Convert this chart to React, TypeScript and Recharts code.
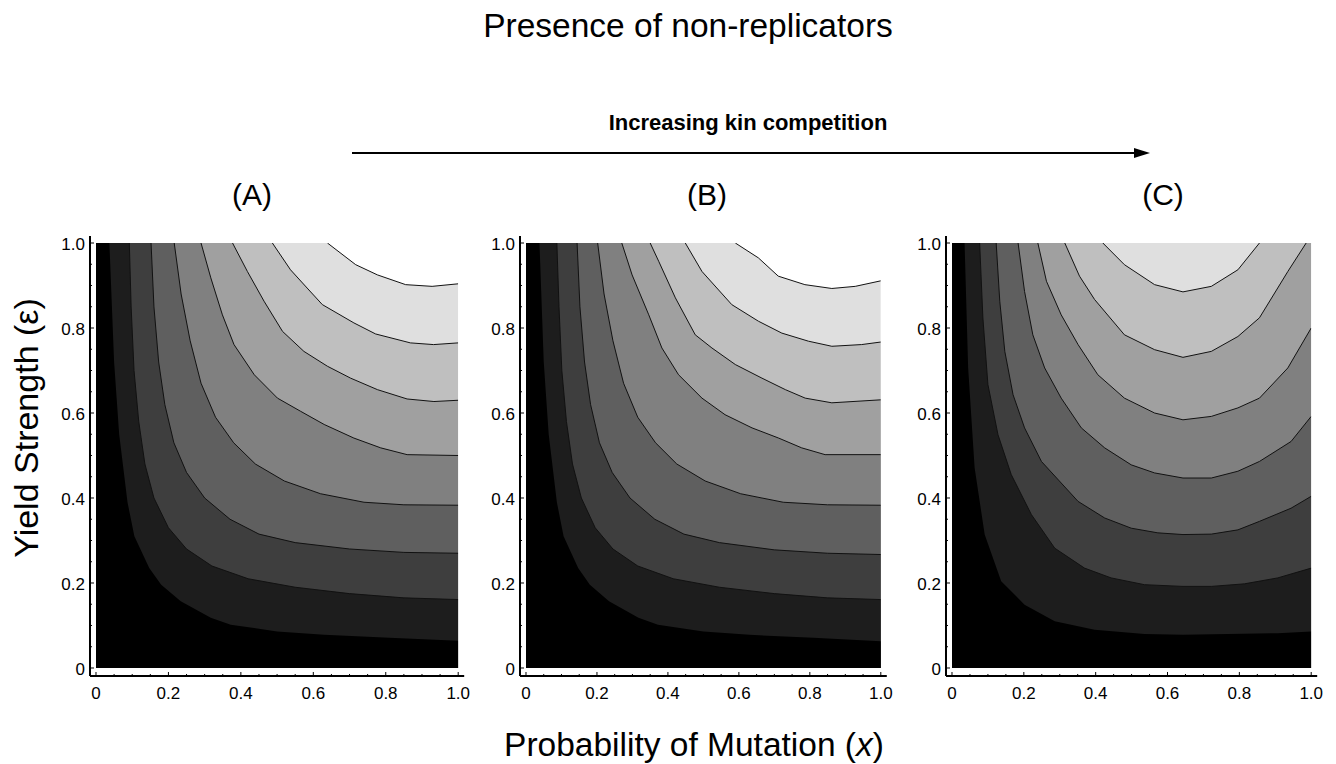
import React from 'react';
import { ComposedChart, Area, Line, XAxis, YAxis } from 'recharts';

type Pt = [number, number];

const TICKS = [0, 0.05, 0.1, 0.15, 0.2, 0.25, 0.3, 0.35, 0.4, 0.45, 0.5, 0.55, 0.6, 0.65, 0.7, 0.75, 0.8, 0.85, 0.9, 0.95, 1];
const SHADES = ['#000000', '#1d1d1d', '#3e3e3e', '#5f5f5f', '#808080', '#a0a0a0', '#bfbfbf', '#dfdfdf', '#ffffff'];
const PANEL_LABELS = ['(A)', '(B)', '(C)'];

// contour lines as [x, epsilon], darkest boundary first
const A_L1: Pt[] = [[0.037, 1], [0.05, 0.72], [0.064, 0.55], [0.087, 0.39], [0.106, 0.31], [0.147, 0.235], [0.18, 0.196], [0.234, 0.157], [0.317, 0.118], [0.372, 0.102], [0.5, 0.086], [0.63, 0.078], [0.81, 0.071], [1, 0.064]];
const A_L2: Pt[] = [[0.092, 1], [0.097, 0.85], [0.105, 0.7], [0.118, 0.58], [0.135, 0.48], [0.16, 0.4], [0.2, 0.33], [0.25, 0.28], [0.32, 0.24], [0.42, 0.21], [0.55, 0.19], [0.7, 0.175], [0.85, 0.165], [1, 0.161]];
const A_L3: Pt[] = [[0.152, 1], [0.16, 0.85], [0.173, 0.72], [0.19, 0.62], [0.215, 0.53], [0.25, 0.46], [0.3, 0.4], [0.37, 0.35], [0.45, 0.315], [0.55, 0.295], [0.7, 0.28], [0.85, 0.272], [1, 0.27]];
const A_L4: Pt[] = [[0.216, 1], [0.235, 0.88], [0.26, 0.77], [0.29, 0.67], [0.33, 0.59], [0.38, 0.53], [0.44, 0.48], [0.52, 0.44], [0.62, 0.41], [0.74, 0.39], [0.85, 0.384], [1, 0.383]];
const A_L5: Pt[] = [[0.29, 1], [0.317, 0.918], [0.349, 0.831], [0.381, 0.761], [0.437, 0.69], [0.501, 0.635], [0.565, 0.604], [0.63, 0.573], [0.712, 0.541], [0.786, 0.518], [0.859, 0.502], [1, 0.5]];
const A_L6: Pt[] = [[0.377, 1], [0.418, 0.933], [0.464, 0.863], [0.515, 0.792], [0.574, 0.745], [0.639, 0.71], [0.703, 0.682], [0.777, 0.655], [0.859, 0.633], [0.933, 0.627], [1, 0.63]];
const A_L7: Pt[] = [[0.487, 1], [0.537, 0.937], [0.583, 0.894], [0.625, 0.855], [0.712, 0.812], [0.772, 0.786], [0.868, 0.765], [0.932, 0.761], [1, 0.765]];
const A_L8: Pt[] = [[0.639, 1], [0.717, 0.949], [0.777, 0.925], [0.855, 0.902], [0.928, 0.898], [1, 0.904]];

const B_L1: Pt[] = [[0.038, 1], [0.05, 0.72], [0.064, 0.55], [0.087, 0.39], [0.106, 0.31], [0.147, 0.235], [0.18, 0.196], [0.234, 0.157], [0.317, 0.118], [0.372, 0.102], [0.5, 0.086], [0.63, 0.078], [0.81, 0.071], [1, 0.063]];
const B_L2: Pt[] = [[0.087, 1], [0.093, 0.85], [0.101, 0.7], [0.114, 0.58], [0.131, 0.48], [0.156, 0.4], [0.195, 0.33], [0.245, 0.28], [0.315, 0.24], [0.415, 0.21], [0.545, 0.19], [0.7, 0.175], [0.85, 0.165], [1, 0.161]];
const B_L3: Pt[] = [[0.144, 1], [0.152, 0.85], [0.165, 0.72], [0.182, 0.62], [0.207, 0.53], [0.243, 0.46], [0.293, 0.4], [0.363, 0.35], [0.445, 0.315], [0.545, 0.295], [0.7, 0.278], [0.85, 0.27], [1, 0.267]];
const B_L4: Pt[] = [[0.202, 1], [0.22, 0.88], [0.245, 0.77], [0.275, 0.67], [0.315, 0.59], [0.365, 0.53], [0.425, 0.48], [0.505, 0.44], [0.605, 0.41], [0.725, 0.39], [0.85, 0.384], [1, 0.383]];
const B_L5: Pt[] = [[0.27, 1], [0.299, 0.925], [0.346, 0.831], [0.383, 0.753], [0.43, 0.69], [0.496, 0.635], [0.561, 0.596], [0.637, 0.565], [0.712, 0.541], [0.777, 0.518], [0.843, 0.502], [1, 0.502]];
const B_L6: Pt[] = [[0.35, 1], [0.374, 0.957], [0.421, 0.871], [0.477, 0.784], [0.524, 0.753], [0.59, 0.714], [0.665, 0.682], [0.731, 0.655], [0.787, 0.635], [0.862, 0.624], [1, 0.631]];
const B_L7: Pt[] = [[0.449, 1], [0.496, 0.933], [0.58, 0.855], [0.655, 0.816], [0.721, 0.788], [0.796, 0.769], [0.862, 0.757], [0.946, 0.761], [1, 0.767]];
const B_L8: Pt[] = [[0.59, 1], [0.655, 0.965], [0.711, 0.922], [0.786, 0.902], [0.862, 0.893], [0.928, 0.898], [1, 0.911]];

const C_L1: Pt[] = [[0.035, 1], [0.045, 0.706], [0.063, 0.471], [0.091, 0.314], [0.137, 0.204], [0.202, 0.149], [0.286, 0.11], [0.397, 0.09], [0.536, 0.08], [0.643, 0.078], [0.768, 0.08], [0.907, 0.082], [1, 0.086]];
const C_L2: Pt[] = [[0.077, 1], [0.086, 0.824], [0.1, 0.667], [0.128, 0.549], [0.165, 0.455], [0.221, 0.361], [0.286, 0.282], [0.369, 0.235], [0.443, 0.212], [0.536, 0.196], [0.643, 0.192], [0.722, 0.192], [0.814, 0.198], [0.907, 0.212], [1, 0.235]];
const C_L3: Pt[] = [[0.123, 1], [0.133, 0.863], [0.147, 0.745], [0.17, 0.643], [0.202, 0.565], [0.249, 0.486], [0.351, 0.392], [0.425, 0.353], [0.499, 0.329], [0.573, 0.318], [0.643, 0.314], [0.722, 0.315], [0.796, 0.325], [0.856, 0.345], [0.944, 0.376], [1, 0.404]];
const C_L4: Pt[] = [[0.184, 1], [0.202, 0.886], [0.225, 0.784], [0.258, 0.706], [0.304, 0.635], [0.36, 0.565], [0.425, 0.518], [0.499, 0.478], [0.564, 0.459], [0.643, 0.447], [0.722, 0.447], [0.796, 0.463], [0.856, 0.486], [0.944, 0.533], [1, 0.592]];
const C_L5: Pt[] = [[0.239, 1], [0.263, 0.91], [0.304, 0.831], [0.351, 0.761], [0.406, 0.69], [0.48, 0.635], [0.564, 0.6], [0.643, 0.584], [0.722, 0.592], [0.796, 0.612], [0.856, 0.635], [0.935, 0.706], [1, 0.8]];
const C_L6: Pt[] = [[0.314, 1], [0.355, 0.922], [0.397, 0.867], [0.48, 0.784], [0.564, 0.749], [0.643, 0.731], [0.722, 0.745], [0.796, 0.78], [0.856, 0.824], [0.935, 0.933], [0.986, 1]];
const C_L7: Pt[] = [[0.42, 1], [0.48, 0.949], [0.564, 0.902], [0.643, 0.885], [0.722, 0.898], [0.796, 0.937], [0.856, 1]];

const PANELS = [
  { lines: [A_L1, A_L2, A_L3, A_L4, A_L5, A_L6, A_L7, A_L8], left: 89.5, width: 374.2 },
  { lines: [B_L1, B_L2, B_L3, B_L4, B_L5, B_L6, B_L7, B_L8], left: 519.5, width: 366.8 },
  { lines: [C_L1, C_L2, C_L3, C_L4, C_L5, C_L6, C_L7], left: 945.5, width: 371.2 },
];

const FONT = '"Liberation Sans", Arial, Helvetica, sans-serif';

const toRows = (pts: Pt[]) => pts.map(([x, e]) => ({ x, e }));
// close the filled region along the top edge where a contour leaves the plot
const fillRows = (pts: Pt[]) => {
  const rows = toRows(pts);
  if (pts[0][1] >= 1 && pts[0][0] > 0) rows.unshift({ x: 0, e: 1 });
  const last = pts[pts.length - 1];
  if (last[1] >= 1 && last[0] < 1) rows.push({ x: 1, e: 1 });
  return rows;
};
const isMajor = (v: number) => Math.abs(v * 5 - Math.round(v * 5)) < 1e-6;
const fmt = (v: number) => (v === 0 ? '0' : v.toFixed(1));

const XTick = (props: any) => {
  const { x, y, payload } = props;
  const major = isMajor(payload.value);
  return (
    <g>
      <line x1={x} x2={x} y1={y} y2={y - (major ? 4 : 2)} stroke="#000" />
      {major && (
        <text x={x} y={y + 11} dy="0.71em" textAnchor="middle" fontSize={17} fontFamily={FONT} fill="#000">
          {fmt(payload.value)}
        </text>
      )}
    </g>
  );
};

const YTick = (props: any) => {
  const { x, y, payload } = props;
  const major = isMajor(payload.value);
  return (
    <g>
      <line x1={x} x2={x + (major ? 4 : 2)} y1={y} y2={y} stroke="#000" />
      {major && (
        <text x={x - 5} y={y} dy="0.4em" textAnchor="end" fontSize={17} fontFamily={FONT} fill="#000">
          {fmt(payload.value)}
        </text>
      )}
    </g>
  );
};

const FRAME_TOP = 236;
const FRAME_H = 440;

function Panel({ lines, left, width }: { lines: Pt[][]; left: number; width: number }) {
  const bg = [{ x: 0, e: 1 }, { x: 1, e: 1 }];
  const order = lines.map((l, i) => i).reverse();
  return (
    <div style={{ position: 'absolute', left: left - 50, top: FRAME_TOP - 10 }}>
      <ComposedChart width={width + 60} height={FRAME_H + 50} margin={{ top: 10, right: 10, bottom: 0, left: 0 }}>
        <XAxis type="number" dataKey="x" domain={[0, 1]} ticks={TICKS} interval={0} padding={{ left: 6, right: 6 }}
          height={40} tickSize={0} tickMargin={0} tickLine={false} tick={<XTick />}
          axisLine={{ stroke: '#000', strokeWidth: 2 }} allowDataOverflow />
        <XAxis xAxisId="top" orientation="top" type="number" dataKey="x" domain={[0, 1]} height={0}
          padding={{ left: 6, right: 6 }} tick={false} tickLine={false} axisLine={{ stroke: '#000', strokeWidth: 2 }} />
        <YAxis type="number" dataKey="e" domain={[0, 1]} ticks={TICKS} interval={0} padding={{ top: 7, bottom: 8 }}
          width={50} tickSize={0} tickMargin={0} tickLine={false} tick={<YTick />}
          axisLine={{ stroke: '#000', strokeWidth: 2 }} allowDataOverflow />
        <YAxis yAxisId="right" orientation="right" type="number" domain={[0, 1]} width={0}
          padding={{ top: 7, bottom: 8 }} tick={false} tickLine={false} axisLine={{ stroke: '#000', strokeWidth: 2 }} />
        <Area data={bg} dataKey="e" type="linear" fill={SHADES[lines.length]} fillOpacity={1} stroke="none" isAnimationActive={false} />
        {order.map((i) => (
          <Area key={`f${i}`} data={fillRows(lines[i])} dataKey="e" type="linear" fill={SHADES[i]} fillOpacity={1}
            stroke="none" isAnimationActive={false} />
        ))}
        {lines.slice(1).map((l, i) => (
          <Line key={`l${i}`} data={toRows(l)} dataKey="e" type="linear" stroke="#111" strokeWidth={1}
            dot={false} activeDot={false} isAnimationActive={false} />
        ))}
      </ComposedChart>
    </div>
  );
}

export default function App() {
  return (
    <div style={{ position: 'absolute', left: 0, top: 0, width: 1336, height: 764, background: '#fff', fontFamily: FONT }}>
      <svg width={1336} height={764} style={{ position: 'absolute', left: 0, top: 0 }}>
        <text x={688} y={37} textAnchor="middle" fontSize={33.5} fontFamily={FONT}>Presence of non-replicators</text>
        <text x={748} y={130} textAnchor="middle" fontSize={22} fontWeight="bold" fontFamily={FONT}>Increasing kin competition</text>
        <line x1={352} y1={153} x2={1138} y2={153} stroke="#000" strokeWidth={2} />
        <polygon points="1150,153 1134,148 1134,158" fill="#000" />
        {PANEL_LABELS.map((t, i) => (
          <text key={t} x={[252, 707, 1163][i]} y={205} textAnchor="middle" fontSize={30} fontFamily={FONT}>{t}</text>
        ))}
        <text transform="translate(38,428) rotate(-90)" textAnchor="middle" fontSize={34} fontFamily={FONT}>Yield Strength (ε)</text>
        <text x={694} y={756} textAnchor="middle" fontSize={33.5} fontFamily={FONT}>
          Probability of Mutation (<tspan fontStyle="italic">x</tspan>)
        </text>
      </svg>
      {PANELS.map((p, i) => (
        <Panel key={i} lines={p.lines} left={p.left} width={p.width} />
      ))}
    </div>
  );
}
